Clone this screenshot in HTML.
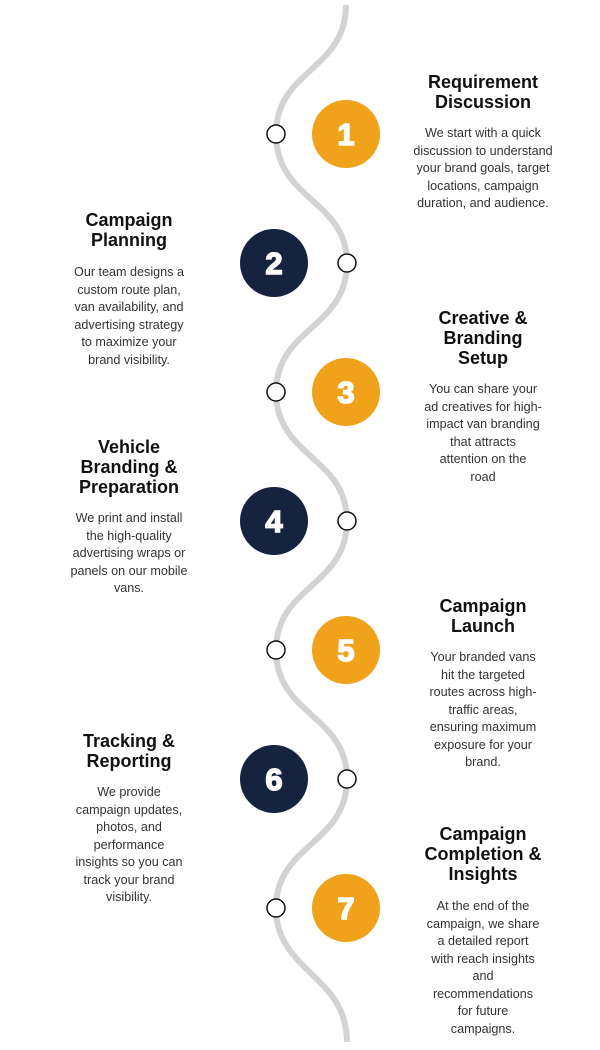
<!DOCTYPE html>
<html><head><style>
body{margin:0;width:600px;height:1050px;background:#fff;position:relative;overflow:hidden;font-family:"Liberation Sans",sans-serif}
.t{position:absolute;font-weight:bold;font-size:18px;line-height:20px;color:#111;text-align:center;width:200px}
.b{position:absolute;font-size:12.6px;line-height:17.5px;color:#333;text-align:center;width:200px}
.R{left:383px}.L{left:29px}
</style></head><body>
<svg width="600" height="1050" style="position:absolute;left:0;top:0">
<path d="M346,5 C346,70 276,70 276,134 C276,200 347,200 347,263 C347,328 276,328 276,392 C276,457 347,457 347,521 C347,586 276,586 276,650 C276,715 347,715 347,779 C347,844 276,844 276,908 C276,972 347,975 347,1042" fill="none" stroke="#d3d3d3" stroke-width="6"/>
<g fill="#fff" stroke="#111" stroke-width="1.5">
<circle cx="276" cy="134" r="9"/><circle cx="347" cy="263" r="9"/><circle cx="276" cy="392" r="9"/><circle cx="347" cy="521" r="9"/><circle cx="276" cy="650" r="9"/><circle cx="347" cy="779" r="9"/><circle cx="276" cy="908" r="9"/>
</g>
<circle cx="346" cy="134" r="34" fill="#f0a21a"/><circle cx="274" cy="263" r="34" fill="#15233f"/>
<circle cx="346" cy="392" r="34" fill="#f0a21a"/><circle cx="274" cy="521" r="34" fill="#15233f"/>
<circle cx="346" cy="650" r="34" fill="#f0a21a"/><circle cx="274" cy="779" r="34" fill="#15233f"/>
<circle cx="346" cy="908" r="34" fill="#f0a21a"/>
<g fill="#fff" stroke="#fff" stroke-width="1.5" font-family="Liberation Sans,sans-serif" font-weight="bold" font-size="31" text-anchor="middle">
<text x="346" y="145">1</text><text x="274" y="274">2</text><text x="346" y="403">3</text><text x="274" y="532">4</text><text x="346" y="661">5</text><text x="274" y="790">6</text><text x="346" y="919">7</text>
</g></svg>

<div class="t R" style="top:72px">Requirement<br>Discussion</div>
<div class="b R" style="top:125px">We start with a quick<br>discussion to understand<br>your brand goals, target<br>locations, campaign<br>duration, and audience.</div>

<div class="t L" style="top:210px">Campaign<br>Planning</div>
<div class="b L" style="top:264px">Our team designs a<br>custom route plan,<br>van availability, and<br>advertising strategy<br>to maximize your<br>brand visibility.</div>

<div class="t R" style="top:308px">Creative &amp;<br>Branding<br>Setup</div>
<div class="b R" style="top:381px">You can share your<br>ad creatives for high-<br>impact van branding<br>that attracts<br>attention on the<br>road</div>

<div class="t L" style="top:437px">Vehicle<br>Branding &amp;<br>Preparation</div>
<div class="b L" style="top:510px">We print and install<br>the high-quality<br>advertising wraps or<br>panels on our mobile<br>vans.</div>

<div class="t R" style="top:596px">Campaign<br>Launch</div>
<div class="b R" style="top:649px">Your branded vans<br>hit the targeted<br>routes across high-<br>traffic areas,<br>ensuring maximum<br>exposure for your<br>brand.</div>

<div class="t L" style="top:731px">Tracking &amp;<br>Reporting</div>
<div class="b L" style="top:784px">We provide<br>campaign updates,<br>photos, and<br>performance<br>insights so you can<br>track your brand<br>visibility.</div>

<div class="t R" style="top:824px">Campaign<br>Completion &amp;<br>Insights</div>
<div class="b R" style="top:898px">At the end of the<br>campaign, we share<br>a detailed report<br>with reach insights<br>and<br>recommendations<br>for future<br>campaigns.</div>
</body></html>
